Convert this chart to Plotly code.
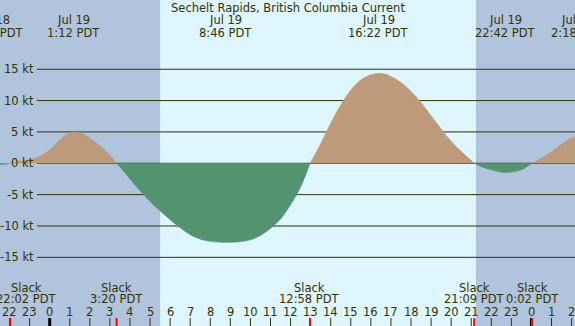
import plotly.graph_objects as go

W, H = 575, 326

# ---------------- data (hours from midnight Jul 19 PDT, knots) ----------------
flow_hours = [-2.5, -1.97, -1.5, -1.0, -0.5, 0.0, 0.5, 1.0, 1.5, 2.0, 2.5, 3.0, 3.33,
              3.5, 4.0, 4.5, 5.0, 5.5, 6.0, 6.5, 7.0, 7.5, 8.0, 8.5, 9.0, 9.5, 10.0,
              10.5, 11.0, 11.5, 12.0, 12.5, 12.97,
              13.5, 14.0, 14.5, 15.0, 15.5, 16.0, 16.5, 17.0, 17.5, 18.0, 18.5, 19.0,
              19.5, 20.0, 20.5, 21.0, 21.15,
              21.5, 22.0, 22.5, 23.0, 23.5, 24.03,
              24.5, 25.0, 25.5, 26.0, 26.2]
flow_kt = [-0.25, 0.0, 0.35, 0.6, 1.1, 2.1, 3.7, 4.85, 4.9, 4.0, 2.8, 1.3, 0.0,
           -0.6, -2.5, -4.4, -6.1, -7.6, -9.0, -10.3, -11.4, -12.1, -12.45, -12.6, -12.6, -12.5, -12.2,
           -11.5, -10.4, -8.9, -6.6, -3.8, 0.0,
           3.1, 6.4, 9.3, 11.7, 13.3, 14.1, 14.35, 13.85, 12.9, 11.5, 9.7, 7.6,
           5.5, 3.5, 1.9, 0.45, 0.0,
           -0.55, -1.05, -1.45, -1.4, -1.05, 0.0,
           0.85, 1.8, 3.05, 4.0, 4.3]

# max-current events (top labels)
max_hours = [-2.78, 1.2, 8.767, 16.367, 22.7, 26.3]
max_dates = ["Jul 18", "Jul 19", "Jul 19", "Jul 19", "Jul 19", "Jul 20"]
max_times = ["21:13 PDT", "1:12 PDT", "8:46 PDT", "16:22 PDT", "22:42 PDT", "2:18 PDT"]

# slack events (bottom labels)
slack_hours = [-1.967, 3.333, 12.967, 21.15, 24.033]
slack_times = ["22:02 PDT", "3:20 PDT", "12:58 PDT", "21:09 PDT", "0:02 PDT"]

# hour ticks
tick_hours = list(range(-2, 27))
tick_labels = [str(h % 24) for h in tick_hours]

# y axis labels
y_vals = [15, 10, 5, 0, -5, -10, -15]
y_labels = ["15 kt", "10 kt", "5 kt", "0 kt", "-5 kt", "-10 kt", "-15 kt"]

# daylight
sunrise_h, sunset_h = 5.5, 21.24

title = "Sechelt Rapids, British Columbia Current"

# ---------------- style ----------------
NIGHT = "#B0C4DE"
DAY = "#DEF6FF"
TAN = "#BC9A7A"
GREEN = "#529470"
TXT = "#333300"
FONT = "DejaVu Sans"
FS = 11.5

X0, X1 = -2.476, 26.17
Y0, Y1 = -25.95, 26.04


def py(pix):
    return 1 - pix / H


def px(h):
    # hour -> paper x fraction (may lie outside 0..1 for partially visible labels)
    return (h - X0) / (X1 - X0)


# split into flood (>=0) and ebb (<=0) lobes; slack zeros are shared, gaps elsewhere
pos = [v if v >= 0 else None for v in flow_kt]
neg = [v if v <= 0 else None for v in flow_kt]

fig = go.Figure()
fig.add_trace(go.Scatter(x=flow_hours, y=pos, mode="lines", connectgaps=False,
                         line=dict(color=TAN, width=0.5, shape="spline", smoothing=1.0),
                         fill="tozeroy", fillcolor=TAN, hoverinfo="skip", showlegend=False))
fig.add_trace(go.Scatter(x=flow_hours, y=neg, mode="lines", connectgaps=False,
                         line=dict(color=GREEN, width=0.5, shape="spline", smoothing=1.0),
                         fill="tozeroy", fillcolor=GREEN, hoverinfo="skip", showlegend=False))

shapes = []
# backgrounds
shapes.append(dict(type="rect", xref="x", yref="paper", x0=X0, x1=sunrise_h, y0=0, y1=1,
                   fillcolor=NIGHT, line_width=0, layer="below"))
shapes.append(dict(type="rect", xref="x", yref="paper", x0=sunrise_h, x1=sunset_h, y0=0, y1=1,
                   fillcolor=DAY, line_width=0, layer="below"))
shapes.append(dict(type="rect", xref="x", yref="paper", x0=sunset_h, x1=X1, y0=0, y1=1,
                   fillcolor=NIGHT, line_width=0, layer="below"))
# grid lines
for v in y_vals:
    shapes.append(dict(type="line", xref="paper", yref="y", x0=37 / W, x1=1, y0=v, y1=v,
                       line=dict(color=TXT, width=1), layer="below"))
# hour ticks
for h in tick_hours:
    midnight = (h % 24 == 0)
    shapes.append(dict(type="line", xref="x", yref="paper", x0=h, x1=h, y0=py(318), y1=0,
                       line=dict(color="#000000" if midnight else TXT, width=3 if midnight else 1)))
for h in slack_hours:
    shapes.append(dict(type="line", xref="x", yref="paper", x0=h, x1=h, y0=py(318), y1=0,
                       line=dict(color="#FF0000", width=2)))

ann = []
font = dict(family=FONT, size=FS, color=TXT)
ann.append(dict(text=title, x=288 / W, xref="paper", y=py(8), yref="paper", showarrow=False,
                xanchor="center", yanchor="middle", font=font))
for h, d, t in zip(max_hours, max_dates, max_times):
    ann.append(dict(text=d, x=px(h), xref="paper", y=py(20.5), yref="paper", showarrow=False,
                    xanchor="center", yanchor="middle", font=font))
    ann.append(dict(text=t, x=px(h), xref="paper", y=py(33), yref="paper", showarrow=False,
                    xanchor="center", yanchor="middle", font=font))
for i, (h, t) in enumerate(zip(slack_hours, slack_times)):
    shift = 16 if i == 0 else 0
    ann.append(dict(text="Slack", x=px(h), xref="paper", xshift=shift, y=py(287.5), yref="paper", showarrow=False,
                    xanchor="center", yanchor="middle", font=font))
    ann.append(dict(text=t, x=px(h), xref="paper", xshift=shift, y=py(299), yref="paper", showarrow=False,
                    xanchor="center", yanchor="middle", font=font))
for h, lab in zip(tick_hours, tick_labels):
    ann.append(dict(text=lab, x=px(h), xref="paper", y=py(312), yref="paper", showarrow=False,
                    xanchor="center", yanchor="middle", font=font))
for v, lab in zip(y_vals, y_labels):
    ann.append(dict(text=lab, x=35.5 / W, xref="paper", y=v, yref="y", showarrow=False,
                    xanchor="right", yanchor="middle", font=font))

fig.update_layout(
    width=W, height=H, autosize=False,
    margin=dict(l=0, r=0, t=0, b=0, pad=0),
    paper_bgcolor=NIGHT, plot_bgcolor=NIGHT,
    xaxis=dict(range=[X0, X1], visible=False, fixedrange=True),
    yaxis=dict(range=[Y0, Y1], visible=False, fixedrange=True),
    shapes=shapes, annotations=ann, showlegend=False,
)
fig.write_html("out.html", config={"displayModeBar": False, "staticPlot": True},
               post_script="document.body.style.margin='0';document.body.style.padding='0';document.body.style.overflow='hidden';")
